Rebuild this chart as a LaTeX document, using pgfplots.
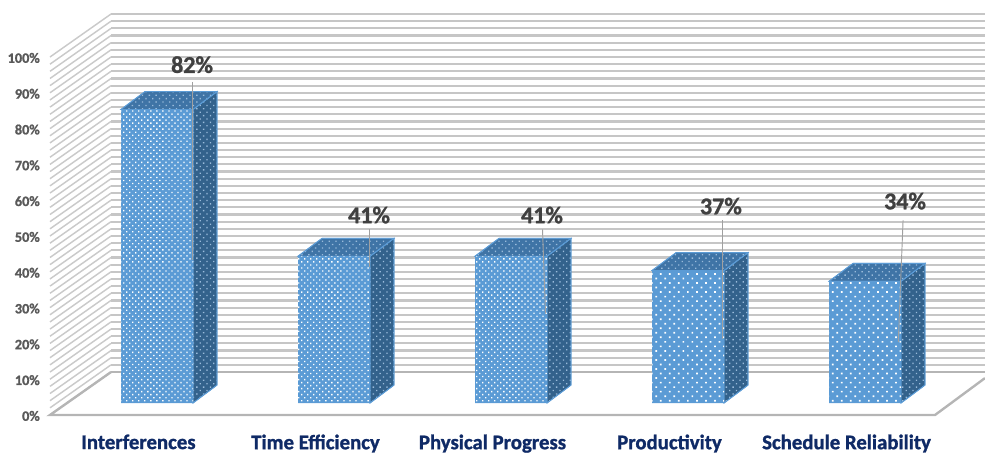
\documentclass[border=0pt]{standalone}
\usepackage{pgfplots}
\pgfplotsset{compat=1.18}
\usepackage{fontspec}
\setmainfont{Carlito}[BoldFeatures={FakeBold=1.2}]
\usetikzlibrary{patterns.meta}
\definecolor{gridc}{HTML}{C6C6C6}
\definecolor{wallc}{HTML}{CACACA}
\definecolor{floorc}{HTML}{B5B5B5}
\definecolor{barf}{HTML}{5B9BD5}
\definecolor{bart}{HTML}{3F74A6}
\definecolor{bars}{HTML}{33628C}
\definecolor{dotd}{HTML}{9ABBDB}
\definecolor{tickc}{HTML}{595959}
\definecolor{navy}{HTML}{0F2A66}
\definecolor{lab}{HTML}{404040}
\definecolor{leader}{HTML}{A0A0A0}
\pgfplotsset{base/.style={
  scale only axis, width=663.75pt, height=268.5pt,
  xmin=-0.5, xmax=4.5, ymin=0, ymax=100, clip=false}}
\tikzset{
  dense/.style={pattern={Dots[radius=0.72pt,distance=3.2pt,angle=45]},pattern color=white},
  sparse/.style={pattern={Dots[radius=0.9pt,distance=4.8pt,angle=45]},pattern color=white},
  darkdots/.style={pattern={Dots[radius=0.7pt,distance=3.6pt,angle=45]},pattern color=dotd}}
\newcommand{\solid}[2]{%
  \addplot[fill=#1,draw=barf,line width=0.6pt,postaction={darkdots}] coordinates {#2} -- cycle;}
\begin{document}
\begin{tikzpicture}
\path[use as bounding box] (0,0) rectangle (738.75pt,341.25pt);
\begin{axis}[base, at={(37.5pt,30pt)},
  axis line style={draw=none}, major tick length=0pt,
  ytick={0,10,...,100},
  yticklabel={\pgfmathprintnumber{\tick}\%},
  /pgf/number format/assume math mode=true,
  yticklabel style={font=\fontsize{10.7pt}{12pt}\selectfont\bfseries, text=tickc, inner sep=0pt, xshift=-7.5pt, yshift=-0.7pt},
  xtick={0,1,2,3,4},
  xticklabels={Interferences,Time Efficiency,Physical Progress,Productivity,Schedule Reliability},
  xticklabel style={font=\fontsize{15.6pt}{17pt}\selectfont\bfseries, text=navy, inner sep=0pt, yshift=-14.5pt},
]
\pgfplotsinvokeforeach{0,2,...,100}{
  \draw[wallc,line width=1.1pt] (axis cs:-0.5,#1) -- (axis cs:-0.1554,{#1+12});
  \draw[gridc,line width=1.6pt] (axis cs:-0.1554,{#1+12}) -- (axis cs:4.782,{#1+12});
}
\addplot[floorc,line width=1.8pt] coordinates {(-0.1554,12)(-0.5,0)(4.5,0)(4.782,10.3)};
\addplot[floorc,line width=1.8pt] coordinates {(-0.1554,12)(4.782,12)};
\end{axis}
\begin{axis}[base, at={(51.375pt,39pt)}, hide axis]
% sides and tops of the bars
\solid{bars}{(0.2034,0)(0.339,5)(0.339,87)(0.2034,82)}
\solid{bart}{(-0.2034,82)(-0.0678,87)(0.339,87)(0.2034,82)}
\solid{bars}{(1.2034,0)(1.339,5)(1.339,46)(1.2034,41)}
\solid{bart}{(0.7966,41)(0.9322,46)(1.339,46)(1.2034,41)}
\solid{bars}{(2.2034,0)(2.339,5)(2.339,46)(2.2034,41)}
\solid{bart}{(1.7966,41)(1.9322,46)(2.339,46)(2.2034,41)}
\solid{bars}{(3.2034,0)(3.339,5)(3.339,42)(3.2034,37)}
\solid{bart}{(2.7966,37)(2.9322,42)(3.339,42)(3.2034,37)}
\solid{bars}{(4.2034,0)(4.339,5)(4.339,39)(4.2034,34)}
\solid{bart}{(3.7966,34)(3.9322,39)(4.339,39)(4.2034,34)}
% front faces
\addplot[ybar,bar width=54pt,bar shift=0pt,fill=barf,draw=none] coordinates {(0,82)(1,41)(2,41)(3,37)(4,34)};
\addplot[ybar,bar width=54pt,bar shift=0pt,dense,draw=none] coordinates {(0,82)(1,41)(2,41)};
\addplot[ybar,bar width=54pt,bar shift=0pt,sparse,draw=none] coordinates {(3,37)(4,34)};
% leader lines
\addplot[leader,line width=0.7pt] coordinates {(0.198,89.7)(0.198,40)};
\addplot[leader,line width=0.7pt] coordinates {(1.198,48.5)(1.198,38)};
\addplot[leader,line width=0.7pt] coordinates {(2.178,48.5)(2.195,25)};
\addplot[leader,line width=0.7pt] coordinates {(3.192,51)(3.192,18)};
\addplot[leader,line width=0.7pt] coordinates {(4.215,51)(4.188,17)};
% data labels
\tikzset{vl/.style={font=\fontsize{18pt}{20pt}\selectfont\bfseries,text=lab,inner sep=0pt}}
\node[vl] at (axis cs:0.198,94.5) {82\%};
\node[vl] at (axis cs:1.198,52.5) {41\%};
\node[vl] at (axis cs:2.175,52.5) {41\%};
\node[vl] at (axis cs:3.186,55) {37\%};
\node[vl] at (axis cs:4.226,56.4) {34\%};
\end{axis}
\end{tikzpicture}
\end{document}
